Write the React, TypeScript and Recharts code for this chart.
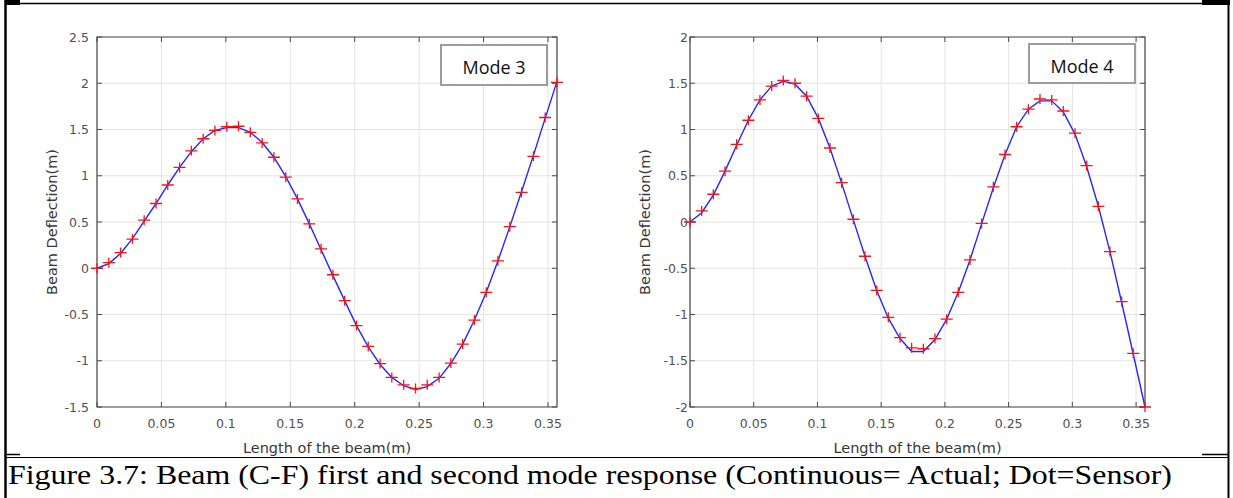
import {
  CartesianGrid,
  ComposedChart,
  Line,
  ReferenceArea,
  Scatter,
  XAxis,
  YAxis,
} from "recharts";

// sensor positions along the beam (m)
const BEAM_X = [
  0, 0.0092, 0.0183, 0.0275, 0.0366, 0.0458, 0.0549, 0.0641, 0.0732, 0.0824,
  0.0915, 0.1007, 0.1098, 0.119, 0.1282, 0.1373, 0.1465, 0.1556, 0.1648, 0.1739,
  0.1831, 0.1922, 0.2014, 0.2105, 0.2197, 0.2288, 0.238, 0.2472, 0.2563, 0.2655,
  0.2746, 0.2838, 0.2929, 0.3021, 0.3112, 0.3204, 0.3295, 0.3387, 0.3478, 0.357,
];

const MODE3_SENSOR = [
  0, 0.06, 0.17, 0.315, 0.52, 0.7, 0.9, 1.09, 1.27, 1.4,
  1.49, 1.53, 1.535, 1.47, 1.355, 1.2, 0.985, 0.75, 0.48, 0.21,
  -0.07, -0.35, -0.62, -0.845, -1.03, -1.18, -1.26, -1.3, -1.26, -1.18,
  -1.025, -0.82, -0.56, -0.26, 0.08, 0.45, 0.82, 1.21, 1.63, 2.01,
];

const MODE3_ACTUAL = [
  0, 0.05, 0.16, 0.32, 0.51, 0.7, 0.9, 1.09, 1.26, 1.4,
  1.49, 1.52, 1.52, 1.47, 1.36, 1.2, 0.99, 0.75, 0.48, 0.2,
  -0.08, -0.35, -0.62, -0.85, -1.04, -1.18, -1.27, -1.31, -1.28, -1.19,
  -1.03, -0.82, -0.56, -0.26, 0.08, 0.45, 0.83, 1.22, 1.62, 2.02,
];

const MODE4_SENSOR = [
  0, 0.12, 0.3, 0.55, 0.84, 1.1, 1.32, 1.47, 1.53, 1.5,
  1.36, 1.12, 0.8, 0.425, 0.03, -0.37, -0.74, -1.03, -1.25, -1.36,
  -1.37, -1.26, -1.05, -0.76, -0.41, -0.015, 0.38, 0.73, 1.03, 1.22,
  1.33, 1.32, 1.2, 0.96, 0.61, 0.17, -0.32, -0.86, -1.42, -2.0,
];

const MODE4_ACTUAL = [
  0, 0.1, 0.29, 0.55, 0.83, 1.1, 1.32, 1.47, 1.52, 1.49,
  1.36, 1.12, 0.8, 0.42, 0.02, -0.37, -0.74, -1.04, -1.26, -1.4,
  -1.4, -1.27, -1.05, -0.76, -0.41, -0.02, 0.37, 0.73, 1.03, 1.22,
  1.31, 1.31, 1.19, 0.95, 0.6, 0.17, -0.32, -0.87, -1.43, -2.0,
];

const X_TICKS = [0, 0.05, 0.1, 0.15, 0.2, 0.25, 0.3, 0.35];
const MODE3_Y_TICKS = [-1.5, -1, -0.5, 0, 0.5, 1, 1.5, 2, 2.5];
const MODE4_Y_TICKS = [-2, -1.5, -1, -0.5, 0, 0.5, 1, 1.5, 2];
const X_MAX = 0.357;

const CAPTION =
  "Figure 3.7: Beam (C-F) first and second mode response (Continuous= Actual; Dot=Sensor)";

const BLUE = "#2626ff";
const RED = "#ff1010";
const AXIS = "#4a4a4a";
const TICK_TEXT = "#505050";
const LABEL_TEXT = "#383838";
const FONT = "'DejaVu Sans', 'Liberation Sans', sans-serif";
const CHART_H = 457;

function PlusMark(props: any) {
  const { cx, cy } = props;
  if (cx == null || cy == null) return null;
  return (
    <path
      d={`M${cx - 6},${cy}H${cx + 6}M${cx},${cy - 5}V${cy + 5}`}
      stroke={RED}
      strokeWidth={1.3}
      fill="none"
    />
  );
}

// MATLAB style: ticks point inward on both bottom and top edges
function XTick(props: any) {
  const { x, y, payload, top } = props;
  return (
    <g>
      <line x1={x} x2={x} y1={y} y2={y - 5} stroke={AXIS} />
      <line x1={x} x2={x} y1={top} y2={top + 5} stroke={AXIS} />
      <text
        x={x}
        y={y + 16}
        textAnchor="middle"
        dominantBaseline="central"
        fill={TICK_TEXT}
        fontSize={12.5}
        fontFamily={FONT}
      >
        {String(payload.value)}
      </text>
    </g>
  );
}

function YTick(props: any) {
  const { x, y, payload, right, gap } = props;
  return (
    <g>
      <line x1={x} x2={x + 5} y1={y} y2={y} stroke={AXIS} />
      <line x1={right - 5} x2={right} y1={y} y2={y} stroke={AXIS} />
      <text
        x={x - gap}
        y={y}
        textAnchor="end"
        dominantBaseline="central"
        fill={TICK_TEXT}
        fontSize={12.5}
        fontFamily={FONT}
      >
        {String(payload.value)}
      </text>
    </g>
  );
}

function ModeChart({
  title,
  actual,
  sensor,
  yTicks,
  left,
  width,
  margin,
  tickGap,
  box,
}: {
  title: string;
  actual: number[];
  sensor: number[];
  yTicks: number[];
  left: number;
  width: number;
  margin: { top: number; right: number; bottom: number; left: number };
  tickGap: number;
  box: { left: number; top: number; width: number; height: number };
}) {
  const data = BEAM_X.map((x, i) => ({ x, actual: actual[i], sensor: sensor[i] }));
  const yMin = yTicks[0];
  const yMax = yTicks[yTicks.length - 1];
  const plotRight = width - margin.right;

  return (
    <div style={{ position: "absolute", left, top: 0, width, height: CHART_H }}>
      <ComposedChart width={width} height={CHART_H} data={data} margin={margin}>
        <CartesianGrid stroke="#e4e4e4" />
        <XAxis
          dataKey="x"
          type="number"
          domain={[0, X_MAX]}
          ticks={X_TICKS}
          interval={0}
          height={46}
          axisLine={false}
          tickLine={false}
          tickSize={0}
          tickMargin={0}
          tick={(p: any) => <XTick {...p} top={margin.top} />}
          label={{
            value: "Length of the beam(m)",
            position: "insideBottom",
            offset: 0,
            fill: LABEL_TEXT,
            fontSize: 14.5,
            fontFamily: FONT,
          }}
        />
        <YAxis
          type="number"
          domain={[yMin, yMax]}
          ticks={yTicks}
          interval={0}
          width={60}
          axisLine={false}
          tickLine={false}
          tickSize={0}
          tickMargin={0}
          tick={(p: any) => <YTick {...p} right={plotRight} gap={tickGap} />}
          label={{
            value: "Beam Deflection(m)",
            angle: -90,
            position: "insideLeft",
            offset: 15,
            fill: LABEL_TEXT,
            fontSize: 14.5,
            fontFamily: FONT,
            style: { textAnchor: "middle" },
          }}
        />
        <ReferenceArea
          x1={0}
          x2={X_MAX}
          y1={yMin}
          y2={yMax}
          fill="none"
          stroke={AXIS}
          strokeWidth={1.2}
          ifOverflow="visible"
        />
        <Line
          type="linear"
          dataKey="actual"
          stroke={BLUE}
          strokeWidth={1.4}
          dot={false}
          activeDot={false}
          isAnimationActive={false}
        />
        <Scatter dataKey="sensor" shape={PlusMark} isAnimationActive={false} />
      </ComposedChart>
      <div
        style={{
          position: "absolute",
          left: box.left - left,
          top: box.top,
          width: box.width,
          height: box.height,
          boxSizing: "border-box",
          border: "2px solid #9c9c9c",
          background: "#fff",
          display: "flex",
          alignItems: "center",
          justifyContent: "center",
          paddingTop: 4,
          fontFamily: "'Open Sans', sans-serif",
          fontSize: 18,
          color: "#111",
        }}
      >
        {title}
      </div>
    </div>
  );
}

export default function App() {
  return (
    <div style={{ position: "relative", width: 1233, height: 498, background: "#fff", overflow: "hidden" }}>
      <style>{"body{margin:0}"}</style>
      <ModeChart
        title="Mode 3"
        actual={MODE3_ACTUAL}
        sensor={MODE3_SENSOR}
        yTicks={MODE3_Y_TICKS}
        left={0}
        width={600}
        margin={{ top: 37, right: 43, bottom: 4, left: 37 }}
        tickGap={8}
        box={{ left: 440, top: 44, width: 108, height: 42 }}
      />
      <ModeChart
        title="Mode 4"
        actual={MODE4_ACTUAL}
        sensor={MODE4_SENSOR}
        yTicks={MODE4_Y_TICKS}
        left={600}
        width={600}
        margin={{ top: 37, right: 55, bottom: 4, left: 30 }}
        tickGap={2}
        box={{ left: 1028, top: 43, width: 108, height: 41 }}
      />
      <svg
        width={1233}
        height={498}
        style={{ position: "absolute", left: 0, top: 0, pointerEvents: "none" }}
      >
        <rect x={6} y={0} width={14} height={5} fill="#000" />
        <rect x={1202} y={0} width={28} height={5} fill="#000" />
        <line x1={5} x2={1229} y1={3.5} y2={3.5} stroke="#000" strokeWidth={1.5} />
        <line x1={5.5} x2={5.5} y1={0} y2={498} stroke="#000" strokeWidth={2.5} />
        <line x1={1228.5} x2={1228.5} y1={0} y2={498} stroke="#000" strokeWidth={2} />
        <line x1={7} x2={20} y1={454.5} y2={454.5} stroke="#000" strokeWidth={1.5} />
        <line x1={1202} x2={1228} y1={454.5} y2={454.5} stroke="#000" strokeWidth={1.5} />
        <line x1={5} x2={1229} y1={457.5} y2={457.5} stroke="#000" strokeWidth={1.2} />
        <text
          x={8}
          y={484}
          fontFamily="Liberation Serif"
          fontSize={27}
          fill="#000"
          textLength={1164}
          lengthAdjust="spacingAndGlyphs"
        >
          {CAPTION}
        </text>
      </svg>
    </div>
  );
}
